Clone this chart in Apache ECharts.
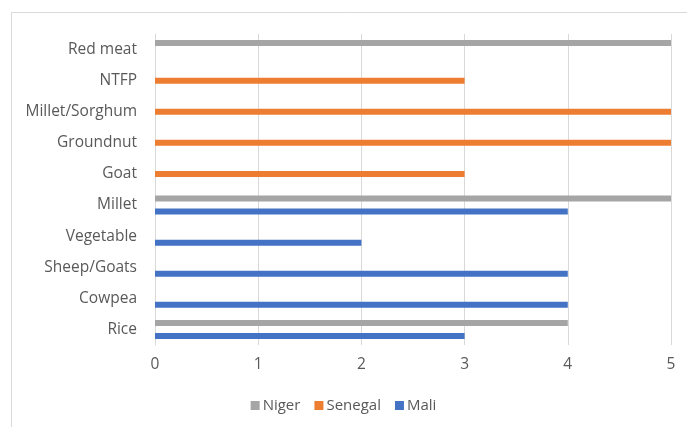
<!DOCTYPE html>
<html>
<head>
<meta charset="utf-8">
<script src="https://cdn.jsdelivr.net/npm/echarts@6/dist/echarts.min.js"></script>
<style>
  html, body { margin: 0; padding: 0; background: #fff; }
  #chart { width: 687px; height: 427px; }
</style>
</head>
<body>
<div id="chart"></div>
<script>
// Products by country (listed bottom to top on the vertical axis)
const categories = ['Rice', 'Cowpea', 'Sheep/Goats', 'Vegetable', 'Millet', 'Goat', 'Groundnut', 'Millet/Sorghum', 'NTFP', 'Red meat'];
const maliValues    = [3, 4, 4, 2, 4, null, null, null, null, null];
const senegalValues = [null, null, null, null, null, 3, 5, 5, 3, null];
const nigerValues   = [4, null, null, null, 5, null, null, null, null, 5];
const xTicks = [0, 1, 2, 3, 4, 5];

const textColor = '#595959';
const fontFamily = '"Open Sans", "Noto Sans", sans-serif';
const fontSize = 15.5;

const chart = echarts.init(document.getElementById('chart'), null, { renderer: 'canvas' });

const barCommon = { type: 'bar', barWidth: 6, barGap: '8%', barCategoryGap: '30%' };

chart.setOption({
  animation: false,
  backgroundColor: '#ffffff',
  textStyle: { fontFamily: fontFamily },
  graphic: [{
    type: 'rect',
    shape: { x: 11.5, y: 12.5, width: 700, height: 440 },
    style: { fill: 'none', stroke: '#d9d9d9', lineWidth: 1 },
    silent: true
  }],
  grid: { left: 155, right: 16, top: 34, bottom: 82 },
  legend: {
    data: ['Niger', 'Senegal', 'Mali'],
    top: 393,
    left: 'center',
    itemWidth: 9,
    itemHeight: 9,
    itemGap: 14,
    icon: 'rect',
    textStyle: { color: textColor, fontSize: 15, fontFamily: fontFamily, padding: [0, 0, 0, -2] }
  },
  xAxis: {
    type: 'value',
    min: xTicks[0],
    max: xTicks[xTicks.length - 1],
    interval: 1,
    axisLine: { show: false },
    axisTick: { show: false },
    axisLabel: { color: textColor, fontSize: fontSize, margin: 12, fontFamily: fontFamily },
    splitLine: { show: true, lineStyle: { color: '#d9d9d9', width: 1 } }
  },
  yAxis: {
    type: 'category',
    data: categories,
    axisLine: { show: true, lineStyle: { color: '#d9d9d9' } },
    axisTick: { show: false },
    axisLabel: { color: textColor, fontSize: fontSize, margin: 18, fontFamily: fontFamily }
  },
  // Series order places Niger at the top of each group and Mali at the bottom
  series: [
    Object.assign({ name: 'Niger', data: nigerValues, itemStyle: { color: '#a5a5a5' } }, barCommon),
    Object.assign({ name: 'Senegal', data: senegalValues, itemStyle: { color: '#ed7d31' } }, barCommon),
    Object.assign({ name: 'Mali', data: maliValues, itemStyle: { color: '#4472c4' } }, barCommon)
  ]
});
</script>
</body>
</html>
